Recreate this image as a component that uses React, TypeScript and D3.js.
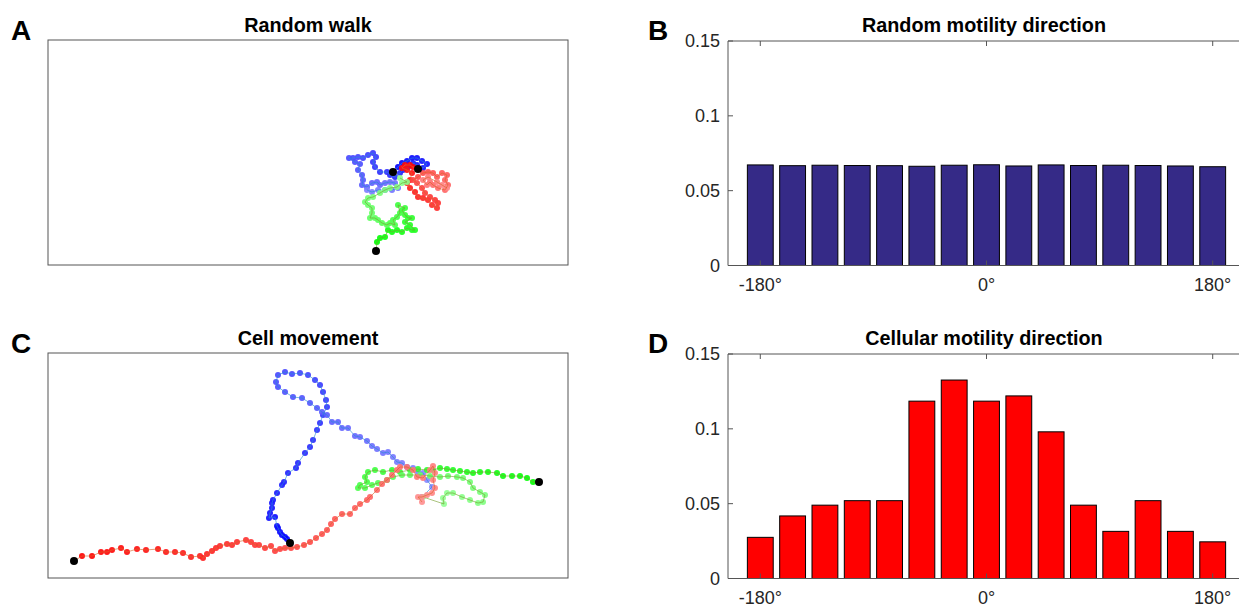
import React from 'react';
import * as d3 from 'd3';

// ---------- data ----------
const binCenters = [-180, -154.29, -128.57, -102.86, -77.14, -51.43, -25.71, 0, 25.71, 51.43, 77.14, 102.86, 128.57, 154.29, 180];
const randomFreq = [0.0672, 0.0667, 0.0670, 0.0668, 0.0667, 0.0663, 0.0670, 0.0673, 0.0665, 0.0672, 0.0668, 0.0670, 0.0668, 0.0665, 0.0660];
const cellFreq = [0.0275, 0.0418, 0.049, 0.052, 0.052, 0.1185, 0.1326, 0.1185, 0.122, 0.098, 0.049, 0.0315, 0.052, 0.0315, 0.0245];
const xTickVals = [-180, 0, 180];
const xTickLabels = ['-180°', '0°', '180°'];
const yTickVals = [0, 0.05, 0.1, 0.15];
const yTickLabels = ['0', '0.05', '0.1', '0.15'];

// trajectories (arbitrary position units, y up)
const walkBlue: [number, number][] = [[345,93],[350,98],[354,102],[359,104],[364,107],[369,107],[374,104],[379,101],[375,97],[369,100],[365,102],[360,98],[355,95],[352,92],[347,88],[342,90],[339,93],[332,93],[327,98],[325,103],[328,108],[325,112],[320,110],[315,107],[310,108],[305,107],[301,107],[307,103],[312,101],[310,95],[314,90],[315,85],[314,80],[319,78],[324,82],[329,83],[332,80],[337,82],[342,83],[347,82],[350,77],[344,75],[337,75],[330,75],[324,73],[319,75]];
const walkRed: [number, number][] = [[370,96],[365,98],[362,100],[357,100],[354,97],[359,95],[364,92],[362,85],[359,82],[362,77],[367,73],[370,68],[375,67],[380,65],[384,60],[389,57],[390,62],[387,65],[382,68],[377,72],[374,77],[369,82],[365,85],[370,88],[375,92],[380,93],[385,92],[389,88],[394,92],[399,90],[397,85],[400,80],[397,75],[390,77],[385,80],[382,83],[379,80],[375,85],[380,88],[389,83],[394,80],[399,77]];
const walkGreen: [number, number][] = [[328,14],[329,23],[332,27],[337,28],[340,35],[344,33],[349,35],[354,33],[359,37],[364,35],[367,35],[362,40],[357,43],[364,47],[360,47],[357,50],[354,55],[357,57],[350,60],[352,52],[349,48],[345,45],[347,40],[342,42],[339,40],[334,42],[330,45],[327,47],[322,47],[324,52],[324,57],[320,60],[317,63],[320,67],[325,68],[332,72],[337,75],[342,77],[349,78],[354,82],[359,83],[352,87]];

const cellBlue: [number, number][] = [[242,35],[239,39],[237,41],[234,43],[232,46],[230,50],[229,52],[227,61],[221,60],[222,65],[224,70],[224,75],[225,78],[229,85],[234,93],[236,96],[240,105],[248,110],[250,115],[257,125],[262,131],[265,138],[269,148],[272,155],[275,163],[279,171],[278,178],[275,186],[272,193],[267,198],[260,203],[252,205],[244,204],[237,206],[230,203],[228,196],[230,191],[237,186],[245,181],[254,180],[262,175],[269,170],[274,166],[279,163],[284,156],[290,156],[294,150],[300,150],[307,142],[312,141],[319,137],[324,132],[329,129],[335,125],[340,126],[345,121],[349,116],[354,115],[359,111],[365,110],[370,106],[375,105],[379,98],[384,91],[374,81]];
const cellRed: [number, number][] = [[26,17],[34,22],[44,22],[53,26],[59,26],[64,28],[73,30],[79,26],[89,29],[98,28],[110,29],[118,26],[127,26],[135,25],[143,21],[152,22],[155,20],[159,24],[164,27],[168,30],[172,32],[179,34],[184,33],[189,36],[198,38],[203,36],[207,33],[211,33],[217,30],[223,32],[227,27],[232,29],[237,30],[243,30],[249,31],[256,33],[262,36],[268,40],[274,44],[279,48],[283,54],[287,59],[294,64],[302,64],[307,70],[312,74],[319,78],[322,81],[329,88],[334,94],[339,98],[344,103],[349,108],[352,111],[359,111],[365,108],[369,101],[375,100],[382,108],[385,112],[387,105],[385,98],[387,90],[384,85],[379,83],[374,81],[370,81],[374,76]];
const cellGreen: [number, number][] = [[491,96],[485,96],[479,100],[472,102],[464,102],[455,102],[449,105],[440,106],[432,106],[425,105],[419,106],[412,107],[405,108],[399,109],[392,110],[385,108],[379,108],[370,109],[362,108],[352,106],[344,108],[335,106],[327,108],[320,106],[317,101],[319,96],[312,93],[310,90],[317,90],[324,93],[330,95],[339,98],[345,101],[354,103],[362,103],[372,103],[382,102],[392,101],[400,102],[409,101],[415,100],[422,96],[425,90],[432,86],[437,83],[435,76],[430,75],[422,78],[414,81],[405,85],[399,85],[395,80],[396,74],[375,81]];

// ---------- styles ----------
const FONT = 'Liberation Sans, Arial, Helvetica, sans-serif';
const AXIS = '#555555';
const TXT = '#262626';

type Traj = { pts: [number, number][]; base: string; light: string; line: string };

const walkTrajs: Traj[] = [
  { pts: walkBlue, base: '#0000ff', light: '#8080ff', line: '#2a8ad4' },
  { pts: walkRed, base: '#ff0000', light: '#ff8585', line: '#d9642a' },
  { pts: walkGreen, base: '#00ff00', light: '#90ff90', line: '#78a030' },
];
const cellTrajs: Traj[] = [
  { pts: cellBlue, base: '#0000ff', light: '#8c8cff', line: '#2a8ad4' },
  { pts: cellGreen, base: '#00ff00', light: '#99ff99', line: '#78a030' },
  { pts: cellRed, base: '#ff0000', light: '#ff9090', line: '#d9642a' },
];

function TrajPanel({ top, title, letter, trajs }: { top: number; title: string; letter: string; trajs: Traj[] }) {
  const left = 48, w = 520, h = 225;
  const x = d3.scaleLinear().domain([0, 520]).range([left, left + w]);
  const y = d3.scaleLinear().domain([0, 225]).range([top + h, top]);
  const line = d3.line<[number, number]>().x(d => x(d[0])).y(d => y(d[1]));
  return (
    <g>
      <text x={11} y={top + 0} fontFamily={FONT} fontWeight="bold" fontSize={28} fill="#000">{letter}</text>
      <text x={left + w / 2} y={top - 8} textAnchor="middle" fontFamily={FONT} fontWeight="bold" fontSize={19.8} fill="#000">{title}</text>
      <rect x={left} y={top} width={w} height={h} fill="#fff" stroke={AXIS} strokeWidth={1} />
      {trajs.map((t, ti) => {
        const interp = d3.interpolateRgb(t.base, t.light);
        const n = t.pts.length;
        return (
          <g key={ti}>
            {t.pts.map((p, i) => (
              <circle key={i} cx={x(p[0])} cy={y(p[1])} r={3} fill={interp(i / (n - 1))} fillOpacity={0.92} />
            ))}
            <path d={line(t.pts) || ''} fill="none" stroke={t.line} strokeWidth={0.7} strokeOpacity={0.9} />
          </g>
        );
      })}
      {trajs.map((t, ti) => (
        <circle key={'s' + ti} cx={x(t.pts[0][0])} cy={y(t.pts[0][1])} r={4} fill="#000" />
      ))}
    </g>
  );
}

function BarPanel({ top, title, letter, values, fill }: { top: number; title: string; letter: string; values: number[]; fill: string }) {
  const left = 728, right = 1245, h = 224.5;
  const x = d3.scaleLinear().domain([-205.7, 205.7]).range([left, right]);
  const y = d3.scaleLinear().domain([0, 0.15]).range([top + h, top]);
  const bw = x(0.8 * 25.714) - x(0);
  return (
    <g>
      <text x={648} y={top - 1} fontFamily={FONT} fontWeight="bold" fontSize={28} fill="#000">{letter}</text>
      <text x={984} y={top - 9} textAnchor="middle" fontFamily={FONT} fontWeight="bold" fontSize={19.8} fill="#000">{title}</text>
      {values.map((v, i) => (
        <rect key={i} x={x(binCenters[i]) - bw / 2} y={y(v)} width={bw} height={y(0) - y(v)} fill={fill} stroke="#000" strokeWidth={1} />
      ))}
      <line x1={left} x2={right} y1={top} y2={top} stroke={AXIS} />
      <line x1={left} x2={right} y1={y(0)} y2={y(0)} stroke={AXIS} />
      <line x1={left} x2={left} y1={top} y2={y(0)} stroke={AXIS} />
      {yTickVals.map((v, i) => (
        <g key={i}>
          <line x1={left} x2={left + 5} y1={y(v)} y2={y(v)} stroke={AXIS} />
          <text x={left - 8} y={y(v)} dy="0.36em" textAnchor="end" fontFamily={FONT} fontSize={18} fill={TXT}>{yTickLabels[i]}</text>
        </g>
      ))}
      {xTickVals.map((v, i) => (
        <g key={i}>
          <line x1={x(v)} x2={x(v)} y1={top} y2={top + 5} stroke={AXIS} />
          <line x1={x(v)} x2={x(v)} y1={y(0)} y2={y(0) - 5} stroke={AXIS} />
          <text x={x(v)} y={y(0) + 25} textAnchor="middle" fontFamily={FONT} fontSize={18} fill={TXT}>{xTickLabels[i]}</text>
        </g>
      ))}
    </g>
  );
}

export default function App() {
  return (
    <svg width={1239} height={606} style={{ position: 'absolute', left: 0, top: 0, background: '#fff' }}>
      <rect width={1239} height={606} fill="#fff" />
      <TrajPanel top={40} title="Random walk" letter="A" trajs={walkTrajs} />
      <TrajPanel top={353} title="Cell movement" letter="C" trajs={cellTrajs} />
      <BarPanel top={41} title="Random motility direction" letter="B" values={randomFreq} fill="#352a87" />
      <BarPanel top={354} title="Cellular motility direction" letter="D" values={cellFreq} fill="#ff0000" />
    </svg>
  );
}
